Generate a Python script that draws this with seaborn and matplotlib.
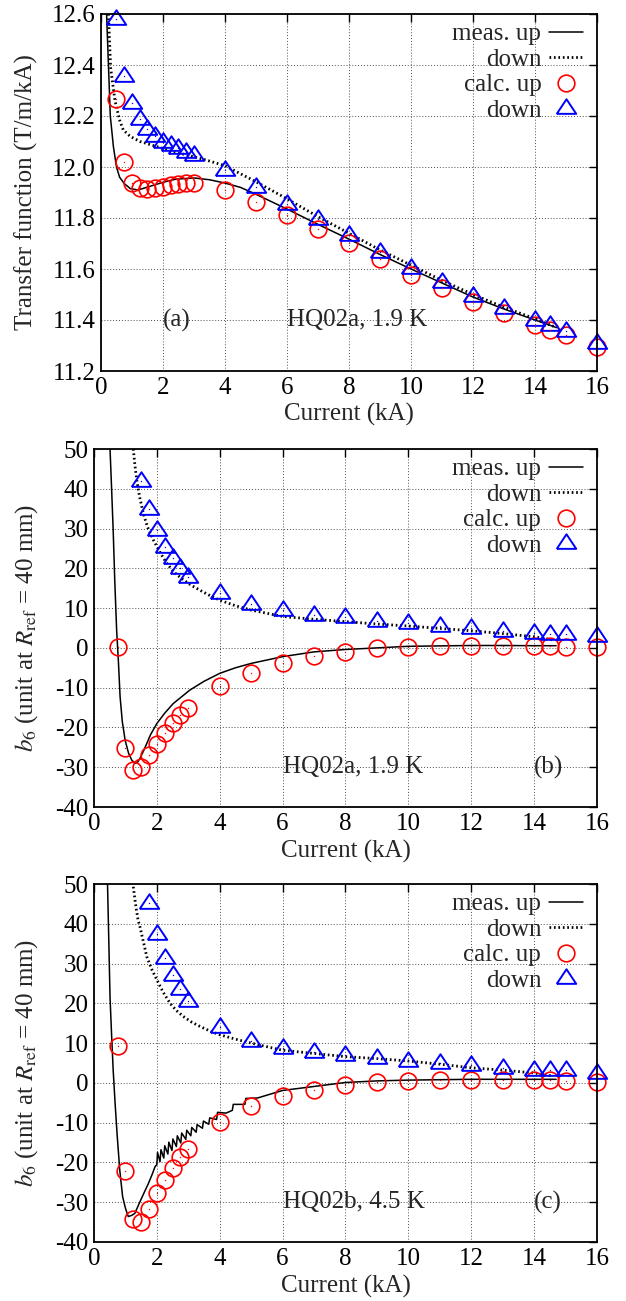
import matplotlib
matplotlib.use("Agg")
import matplotlib.pyplot as plt
import seaborn as sns

# ---- data ----
# calculated points (same currents in all panels)
cur_up = [0.75, 1.0, 1.25, 1.5, 1.75, 2.0, 2.25, 2.5, 2.75, 3.0,
          4, 5, 6, 7, 8, 9, 10, 11, 12, 13, 14, 14.5, 15, 16]
cur_a = [0.5] + cur_up

# (a) transfer function, HQ02a 1.9 K
tf_calc_up = [12.267, 12.02, 11.936, 11.916, 11.912, 11.916, 11.923, 11.93, 11.932, 11.936, 11.936,
              11.91, 11.864, 11.81, 11.756, 11.703, 11.638, 11.577, 11.525, 11.472, 11.427, 11.38,
              11.36, 11.34, 11.295]
tf_calc_dn = [12.58, 12.357, 12.25, 12.19, 12.148, 12.12, 12.10, 12.086, 12.073, 12.06, 12.047,
              11.988, 11.923, 11.855, 11.795, 11.733, 11.665, 11.605, 11.548, 11.495, 11.447, 11.40,
              11.38, 11.357, 11.31]
cur_a_meas_up = [0.18, 0.24, 0.3, 0.4, 0.5, 0.6, 0.75, 0.95, 1.2, 1.6, 2.0, 2.4, 3.0, 3.5, 4.0, 4.5,
                 5.0, 6, 7, 8, 9, 10, 11, 12, 13, 14, 14.7]
tf_meas_up = [12.6, 12.4, 12.2, 12.08, 12.0, 11.96, 11.935, 11.915, 11.91, 11.925, 11.94, 11.952,
              11.957, 11.95, 11.937, 11.92, 11.893, 11.835, 11.775, 11.717, 11.657, 11.6, 11.545,
              11.49, 11.443, 11.4, 11.37]
cur_a_meas_dn = [0.24, 0.31, 0.45, 0.61, 0.72, 0.94, 1.26, 1.8, 2.33, 2.87, 3.4, 4.0, 5.0, 5.87,
                 7, 8, 9, 10, 11, 12, 13, 14, 14.6]
tf_meas_dn = [12.6, 12.39, 12.26, 12.18, 12.145, 12.12, 12.10, 12.08, 12.06, 12.044, 12.027, 12.005,
              11.942, 11.884, 11.805, 11.74, 11.675, 11.615, 11.555, 11.5, 11.45, 11.405, 11.375]

# (b) b6, HQ02a 1.9 K
cur_b_dn = [1.5, 1.75, 2.0, 2.25, 2.5, 2.75, 3.0, 4, 5, 6, 7, 8, 9, 10, 11, 12, 13, 14, 14.5, 15, 16]
b6_b_calc_up = [0.3, -25.2, -30.7, -30.0, -26.9, -24.2, -21.5, -19.0, -16.9, -15.2,
                -9.6, -6.4, -3.9, -2.1, -1.1, -0.1, 0.3, 0.5, 0.55, 0.5, 0.5, 0.5, 0.3, 0.1]
b6_b_calc_dn = [42.0, 34.8, 29.6, 25.4, 22.5, 20.0, 17.9, 13.7, 11.0, 9.5, 8.3, 7.7, 6.8, 6.35,
                5.5, 4.9, 4.25, 3.8, 3.5, 3.5, 3.0]
cur_b_meas_up = [0.51, 0.56, 0.61, 0.66, 0.72, 0.78, 0.83, 0.9, 0.99, 1.1, 1.2, 1.3, 1.38, 1.46,
                 1.57, 1.68, 1.8, 2.0, 2.25, 2.52, 2.8, 3.05, 3.5, 4.0, 4.5, 5.0, 6.0, 7.0, 8.0,
                 9.0, 10, 11, 12, 13, 14, 14.7]
b6_b_meas_up = [50, 40, 29.6, 17, 4.5, -4, -12.3, -18.5, -23.2, -26.5, -28.2, -29.0, -28.8, -27.8,
                -26, -24.0, -21.8, -19.0, -16.4, -14.0, -12.2, -10.6, -8.4, -6.4, -5.0, -3.9, -2.2,
                -1.0, -0.4, 0.0, 0.4, 0.5, 0.6, 0.6, 0.55, 0.55]
cur_b_meas_dn = [1.25, 1.3, 1.36, 1.45, 1.57, 1.7, 1.89, 2.1, 2.31, 2.55, 2.84, 3.1, 3.37, 3.7,
                 4.0, 4.5, 5.0, 6.0, 7.0, 8.0, 9, 10, 11, 12, 13, 14, 14.6]
b6_b_meas_dn = [50, 46, 42.2, 38, 33.8, 30.4, 27.1, 24, 21.3, 19.0, 17.1, 15.7, 14.5, 13.1, 12.0,
                10.6, 9.5, 7.9, 7.2, 6.6, 6.0, 5.5, 4.9, 4.3, 3.6, 2.8, 2.0]

# (c) b6, HQ02b 4.5 K
cur_c_dn = [1.75, 2.0, 2.25, 2.5, 2.75, 3.0, 4, 5, 6, 7, 8, 9, 10, 11, 12, 13, 14, 14.5, 15, 16]
b6_c_calc_up = [9.3, -22.1, -34.1, -34.9, -31.8, -27.8, -24.5, -21.3, -18.6, -16.5,
                -9.8, -5.8, -3.3, -1.7, -0.6, 0.2, 0.5, 0.7, 0.7, 0.7, 0.7, 0.7, 0.5, 0.2]
b6_c_calc_dn = [45.2, 37.4, 31.5, 27.1, 23.6, 20.6, 14.0, 10.6, 8.7, 7.7, 7.1, 6.3, 5.5, 4.9,
                4.4, 3.8, 3.3, 3.2, 3.2, 2.5]
cur_c_meas_up = [0.43, 0.47, 0.51, 0.56, 0.61, 0.67, 0.74, 0.82, 0.91, 1.0, 1.09, 1.2, 1.3, 1.46,
                 1.6, 1.73, 1.85, 1.94, 2.0, 2.02, 2.1, 2.13, 2.22, 2.25, 2.35, 2.38, 2.48, 2.51,
                 2.62, 2.65, 2.76, 2.79, 2.92, 2.95, 3.08, 3.11, 3.25, 3.28, 3.45, 3.48, 3.65,
                 3.68, 3.9, 3.93, 4.2, 4.4, 4.43, 4.8, 4.83, 5.2, 6.0, 7.0, 8.0, 9.0, 10.0, 11.0,
                 12.0, 13.0, 14.0, 14.7]
b6_c_meas_up = [50, 36, 21.5, 12, 3.2, -5, -13.5, -22, -28.6, -31.5, -33.6, -33.3, -32.8, -29.9,
                -27.5, -25.3, -23, -21.1, -20.5, -17.5, -19.8, -16.8, -18.9, -15.8, -17.9, -14.9,
                -17.0, -14.1, -16.0, -13.3, -15.1, -12.6, -14.2, -11.9, -13.3, -11.2, -12.4, -10.5,
                -11.4, -9.6, -10.4, -8.8, -9.2, -7.4, -7.6, -6.9, -5.4, -5.4, -3.9, -3.8, -1.9,
                -0.9, 0.1, 0.5, 0.7, 0.8, 0.9, 0.9, 0.9, 0.9]
cur_c_meas_dn = [1.25, 1.32, 1.4, 1.46, 1.57, 1.68, 1.84, 2.0, 2.2, 2.42, 2.62, 2.84, 3.1, 3.37,
                 3.7, 4.0, 4.5, 5.0, 6.0, 7.0, 8.0, 9.0, 10.0, 11.0, 12.0, 13.0, 14.0, 14.6]
b6_c_meas_dn = [49.3, 45, 41, 39.3, 35.5, 31.7, 28.5, 25.9, 22.8, 20.0, 18.2, 16.7, 15.3, 14.2,
                13.0, 12.1, 11.0, 10.0, 8.2, 7.4, 6.6, 6.1, 5.5, 4.7, 3.8, 3.2, 2.5, 1.7]

# ---- style ----
sns.set_theme(style="white")
plt.rcParams.update({
    "font.family": ["Liberation Serif", "DejaVu Serif"],
    "mathtext.fontset": "stix",
    "axes.unicode_minus": False,
    "font.size": 18,
})
FS = 18
tri = [(-1, -0.55), (1, -0.55), (0, 0.95), (-1, -0.55)]

fig = plt.figure(figsize=(6.26, 13.01), dpi=100)
W, H = 626, 1301


def px_axes(left, top, right, bottom):
    return fig.add_axes([left / W, 1 - bottom / H, (right - left) / W, (bottom - top) / H])


def draw_panel(ax, x_up, y_up, x_dn, y_dn, xc_up, yc_up, xc_dn, yc_dn):
    sns.lineplot(x=x_up, y=y_up, ax=ax, color="black", lw=1.1, estimator=None, sort=False,
                 label="meas. up")
    sns.lineplot(x=x_dn, y=y_dn, ax=ax, color="black", lw=2.0, estimator=None, sort=False,
                 linestyle=(0, (0.6, 1.0)), label="down")
    sns.lineplot(x=xc_up, y=yc_up, ax=ax, color="red", marker="o", linestyle="", markersize=12,
                 markerfacecolor="none", markeredgecolor="red", markeredgewidth=1.2,
                 estimator=None, sort=False, label="calc. up", clip_on=False)
    sns.lineplot(x=xc_dn, y=yc_dn, ax=ax, color="blue", marker=tri, linestyle="", markersize=14,
                 markerfacecolor="none", markeredgecolor="blue", markeredgewidth=1.4,
                 estimator=None, sort=False, label="down", clip_on=False)
    # small centre dots
    sns.lineplot(x=xc_up, y=yc_up, ax=ax, color="red", marker=".", linestyle="", markersize=2,
                 markeredgewidth=0, estimator=None, sort=False, legend=False)
    sns.lineplot(x=xc_dn, y=yc_dn, ax=ax, color="blue", marker=".", linestyle="", markersize=2,
                 markeredgewidth=0, estimator=None, sort=False, legend=False)

    ax.set_xlim(0, 16)
    ax.set_xticks(range(0, 17, 2))
    ax.grid(True, color="0.3", linestyle=(0, (1, 2)), linewidth=0.7)
    ax.tick_params(direction="in", top=True, right=True, length=6, width=1, labelsize=FS,
                   colors="black", pad=4)
    for s in ax.spines.values():
        s.set_color("black")
        s.set_linewidth(1.3)
    ax.legend(loc="upper right", bbox_to_anchor=(0.972, 0.975), frameon=False, markerfirst=False,
              fontsize=FS, handlelength=1.35, handletextpad=0.32, labelspacing=0.12,
              borderpad=0, borderaxespad=0)
    ax.set_xlabel("Current (kA)", fontsize=FS)
    ax.xaxis.label.set_va("center")


# (a)
ax1 = px_axes(101, 14, 597, 371)
draw_panel(ax1, cur_a_meas_up, tf_meas_up, cur_a_meas_dn, tf_meas_dn,
           cur_a, tf_calc_up, cur_a, tf_calc_dn)
ax1.set_ylim(11.2, 12.6)
ax1.set_yticks([11.2, 11.4, 11.6, 11.8, 12.0, 12.2, 12.4, 12.6])
ax1.set_yticklabels(["11.2", "11.4", "11.6", "11.8", "12.0", "12.2", "12.4", "12.6"])
ax1.set_ylabel("Transfer function (T/m/kA)", fontsize=FS)
ax1.yaxis.label.set_va("center")
ax1.yaxis.set_label_coords(-0.15, 0.5)
ax1.xaxis.set_label_coords(0.5, -0.123)
ax1.text(2.0, 11.4, "(a)", fontsize=FS, va="center", ha="left")
ax1.text(6.0, 11.4, "HQ02a, 1.9 K", fontsize=FS, va="center", ha="left")

b6_label = r"$b_6$ (unit at $R_{\rm ref}$ = 40 mm)"

# (b)
ax2 = px_axes(94, 449, 597, 807)
draw_panel(ax2, cur_b_meas_up, b6_b_meas_up, cur_b_meas_dn, b6_b_meas_dn,
           cur_up, b6_b_calc_up, cur_b_dn, b6_b_calc_dn)
ax2.set_ylim(-40, 50)
ax2.set_yticks(range(-40, 51, 10))
ax2.set_ylabel(b6_label, fontsize=FS)
ax2.yaxis.label.set_va("center")
ax2.yaxis.set_label_coords(-0.134, 0.5)
ax2.xaxis.set_label_coords(0.5, -0.123)
ax2.text(6.0, -30, "HQ02a, 1.9 K", fontsize=FS, va="center", ha="left")
ax2.text(14.0, -30, "(b)", fontsize=FS, va="center", ha="left")

# (c)
ax3 = px_axes(94, 884, 597, 1242)
draw_panel(ax3, cur_c_meas_up, b6_c_meas_up, cur_c_meas_dn, b6_c_meas_dn,
           cur_up, b6_c_calc_up, cur_c_dn, b6_c_calc_dn)
ax3.set_ylim(-40, 50)
ax3.set_yticks(range(-40, 51, 10))
ax3.set_ylabel(b6_label, fontsize=FS)
ax3.yaxis.label.set_va("center")
ax3.yaxis.set_label_coords(-0.134, 0.5)
ax3.xaxis.set_label_coords(0.5, -0.123)
ax3.text(6.0, -30, "HQ02b, 4.5 K", fontsize=FS, va="center", ha="left")
ax3.text(14.0, -30, "(c)", fontsize=FS, va="center", ha="left")

fig.savefig("out.png", dpi=100, facecolor="white")
